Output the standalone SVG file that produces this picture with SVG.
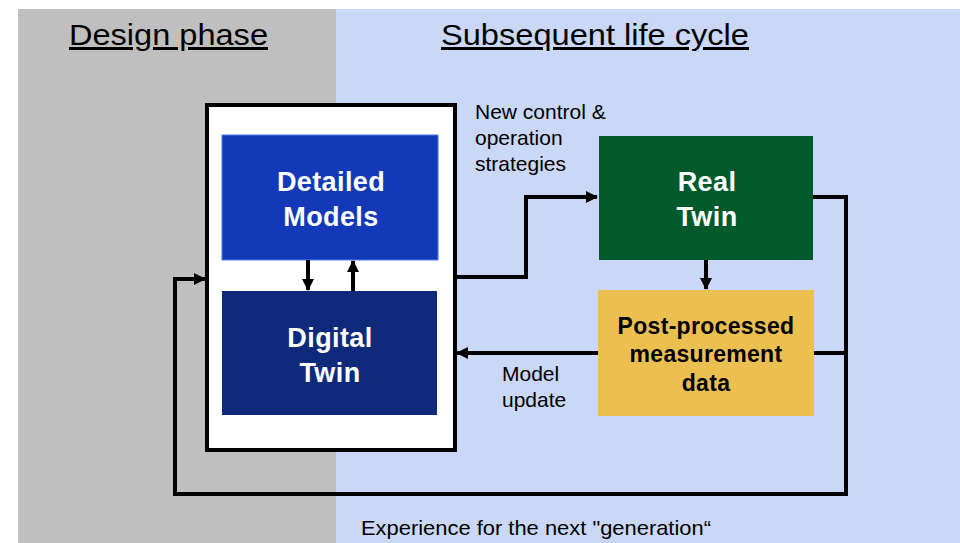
<svg xmlns="http://www.w3.org/2000/svg" width="960" height="543" viewBox="0 0 960 543">
<defs>
<marker id="ah" markerWidth="12" markerHeight="12" refX="11" refY="6" orient="auto" markerUnits="userSpaceOnUse">
<path d="M0,0 L12,6 L0,12 z" fill="#000"/>
</marker>
<style>
.hdr{font-family:"Liberation Sans",Arial,sans-serif;font-size:30px;fill:#000;text-decoration:underline}
.lbl{font-family:"Liberation Sans",Arial,sans-serif;font-size:21px;fill:#000}
.nw{font-family:"Liberation Sans",Arial,sans-serif;font-size:27px;font-weight:bold;fill:#fff;text-anchor:middle;letter-spacing:0.4px}
.nb{font-family:"Liberation Sans",Arial,sans-serif;font-size:23px;font-weight:bold;fill:#000;text-anchor:middle;letter-spacing:0.3px}
.c{fill:none;stroke:#000;stroke-width:4}
</style>
</defs>
<rect x="0" y="0" width="960" height="543" fill="#fff"/>
<rect x="18" y="9" width="318" height="534" fill="#bfbfbf"/>
<rect x="336" y="9" width="624" height="534" fill="#cad7f7"/>
<text class="hdr" x="69" y="45" textLength="199" lengthAdjust="spacingAndGlyphs">Design phase</text>
<text class="hdr" x="441" y="45" textLength="308" lengthAdjust="spacingAndGlyphs">Subsequent life cycle</text>
<g id="outer">
<rect x="207" y="105" width="248" height="345" fill="#fff" stroke="#000" stroke-width="4"/>
</g>
<g id="detailed-models">
<rect x="222" y="135" width="216" height="125" fill="#1439b8" stroke="#4f7bf0" stroke-width="1"/>
<text class="nw" x="331" y="191">Detailed</text>
<text class="nw" x="331" y="226">Models</text>
</g>
<g id="digital-twin">
<rect x="222" y="291" width="215" height="124" fill="#0f2a7a"/>
<text class="nw" x="330" y="347">Digital</text>
<text class="nw" x="330" y="382">Twin</text>
</g>
<g id="real-twin">
<rect x="599" y="136" width="214" height="124" fill="#005a2b"/>
<text class="nw" x="707" y="191">Real</text>
<text class="nw" x="707" y="226">Twin</text>
</g>
<g id="post-processed">
<rect x="598" y="290" width="216" height="126" fill="#ecc050"/>
<text class="nb" x="706" y="334">Post-processed</text>
<text class="nb" x="706" y="362">measurement</text>
<text class="nb" x="706" y="391">data</text>
</g>
<g id="connectors">
<path class="c" d="M308,260 V290" marker-end="url(#ah)"/>
<path class="c" d="M353,291 V261" marker-end="url(#ah)"/>
<path class="c" d="M706,260 V289" marker-end="url(#ah)"/>
<path class="c" d="M455,277 H526 V197 H597" marker-end="url(#ah)"/>
<path class="c" d="M598,353 H457" marker-end="url(#ah)"/>
<path class="c" d="M813,197 H846 V494 H175 V279 H205" marker-end="url(#ah)"/>
<path class="c" d="M814,353 H846"/>
</g>
<text class="lbl" x="475" y="119">New control &amp;</text>
<text class="lbl" x="475" y="145">operation</text>
<text class="lbl" x="475" y="171">strategies</text>
<text class="lbl" x="502" y="381">Model</text>
<text class="lbl" x="502" y="407">update</text>
<text class="lbl" x="361" y="535" font-size="20" textLength="350" lengthAdjust="spacingAndGlyphs">Experience for the next "generation“</text>
</svg>
